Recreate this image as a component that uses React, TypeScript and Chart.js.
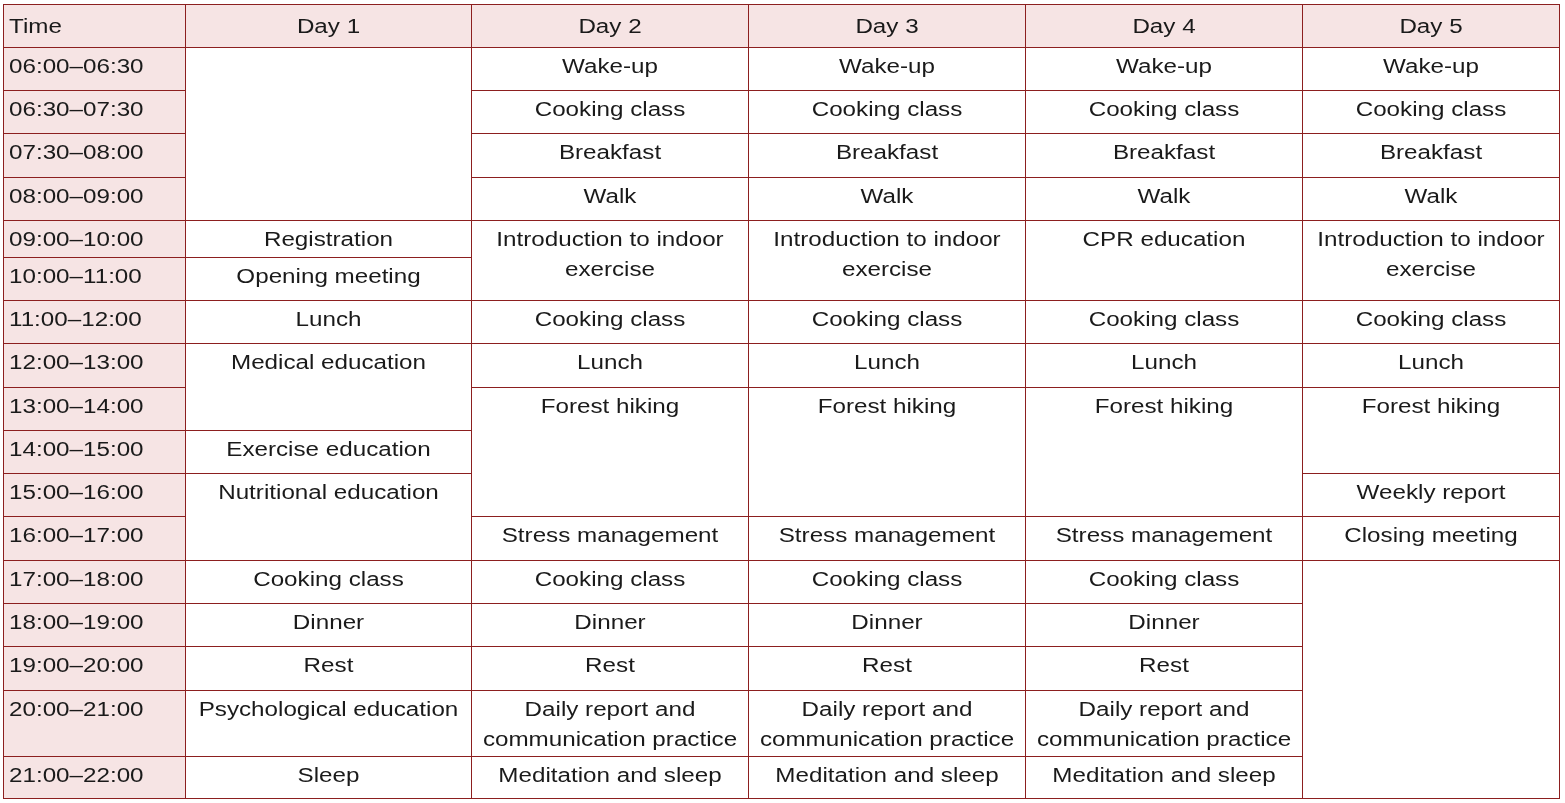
import React, { useEffect, useRef } from "react";
import { Chart, registerables } from "chart.js";

Chart.register(...registerables);

// ---- data ----
const timeHeader = "Time";
const dayLabels = ["Day 1", "Day 2", "Day 3", "Day 4", "Day 5"];
const timeSlots = [
  "06:00–06:30",
  "06:30–07:30",
  "07:30–08:00",
  "08:00–09:00",
  "09:00–10:00",
  "10:00–11:00",
  "11:00–12:00",
  "12:00–13:00",
  "13:00–14:00",
  "14:00–15:00",
  "15:00–16:00",
  "16:00–17:00",
  "17:00–18:00",
  "18:00–19:00",
  "19:00–20:00",
  "20:00–21:00",
  "21:00–22:00",
];
// [activity, number of time slots it spans]
const day1: [string, number][] = [
  ["", 4],
  ["Registration", 1],
  ["Opening meeting", 1],
  ["Lunch", 1],
  ["Medical education", 2],
  ["Exercise education", 1],
  ["Nutritional education", 2],
  ["Cooking class", 1],
  ["Dinner", 1],
  ["Rest", 1],
  ["Psychological education", 1],
  ["Sleep", 1],
];
const day2: [string, number][] = [
  ["Wake-up", 1],
  ["Cooking class", 1],
  ["Breakfast", 1],
  ["Walk", 1],
  ["Introduction to indoor exercise", 2],
  ["Cooking class", 1],
  ["Lunch", 1],
  ["Forest hiking", 3],
  ["Stress management", 1],
  ["Cooking class", 1],
  ["Dinner", 1],
  ["Rest", 1],
  ["Daily report and communication practice", 1],
  ["Meditation and sleep", 1],
];
const day3: [string, number][] = [
  ["Wake-up", 1],
  ["Cooking class", 1],
  ["Breakfast", 1],
  ["Walk", 1],
  ["Introduction to indoor exercise", 2],
  ["Cooking class", 1],
  ["Lunch", 1],
  ["Forest hiking", 3],
  ["Stress management", 1],
  ["Cooking class", 1],
  ["Dinner", 1],
  ["Rest", 1],
  ["Daily report and communication practice", 1],
  ["Meditation and sleep", 1],
];
const day4: [string, number][] = [
  ["Wake-up", 1],
  ["Cooking class", 1],
  ["Breakfast", 1],
  ["Walk", 1],
  ["CPR education", 2],
  ["Cooking class", 1],
  ["Lunch", 1],
  ["Forest hiking", 3],
  ["Stress management", 1],
  ["Cooking class", 1],
  ["Dinner", 1],
  ["Rest", 1],
  ["Daily report and communication practice", 1],
  ["Meditation and sleep", 1],
];
const day5: [string, number][] = [
  ["Wake-up", 1],
  ["Cooking class", 1],
  ["Breakfast", 1],
  ["Walk", 1],
  ["Introduction to indoor exercise", 2],
  ["Cooking class", 1],
  ["Lunch", 1],
  ["Forest hiking", 2],
  ["Weekly report", 1],
  ["Closing meeting", 1],
  ["", 5],
];
const schedule = [day1, day2, day3, day4, day5];

// ---- layout / style ----
const W = 1565;
const H = 803;
const TABLE_LEFT = 3.5;
const TABLE_TOP = 4.5;
const COL_WIDTHS = [182, 286, 277, 277, 277, 257];
const ROW_HEIGHTS = [43, 43, 43, 44, 43, 37, 43, 43, 44, 43, 43, 43, 44, 43, 43, 44, 66, 42];
const BORDER = "#8c1f1f";
const PINK = "#f6e4e4";
const TEXT = "#1a1a1a";
const FONT = '20px "Liberation Sans", Arial, sans-serif';
const STRETCH = 1.21;
const LINE_GAP = 29.5;
const BASELINE_OFFSET = 25.8;
const HEADER_BASELINE = 28.3;

type Cell = {
  c: number;
  r0: number;
  r1: number;
  text: string;
  fill: string;
  align: "left" | "center";
  header: boolean;
};

function buildCells(): Cell[] {
  const cells: Cell[] = [];
  cells.push({ c: 0, r0: 0, r1: 1, text: timeHeader, fill: PINK, align: "left", header: true });
  dayLabels.forEach((d, i) =>
    cells.push({ c: i + 1, r0: 0, r1: 1, text: d, fill: PINK, align: "center", header: true })
  );
  timeSlots.forEach((t, i) =>
    cells.push({ c: 0, r0: i + 1, r1: i + 2, text: t, fill: PINK, align: "left", header: false })
  );
  schedule.forEach((day, di) => {
    let r = 1;
    day.forEach(([txt, span]) => {
      cells.push({ c: di + 1, r0: r, r1: r + span, text: txt, fill: "#ffffff", align: "center", header: false });
      r += span;
    });
  });
  return cells;
}

const colEdges: number[] = [TABLE_LEFT];
COL_WIDTHS.forEach((w) => colEdges.push(colEdges[colEdges.length - 1] + w));
const rowEdges: number[] = [TABLE_TOP];
ROW_HEIGHTS.forEach((h) => rowEdges.push(rowEdges[rowEdges.length - 1] + h));

function wrap(ctx: CanvasRenderingContext2D, text: string, maxW: number): string[] {
  const words = text.split(" ");
  const lines: string[] = [];
  let cur = "";
  for (const w of words) {
    const test = cur ? cur + " " + w : w;
    if (cur && ctx.measureText(test).width * STRETCH > maxW) {
      lines.push(cur);
      cur = w;
    } else {
      cur = test;
    }
  }
  if (cur) lines.push(cur);
  return lines;
}

const tablePlugin = {
  id: "scheduleTable",
  afterDraw(chart: any) {
    const ctx: CanvasRenderingContext2D = chart.ctx;
    const xs = chart.scales.x;
    const ys = chart.scales.y;
    const cells = buildCells();
    ctx.save();
    // fills
    cells.forEach((cell) => {
      const x0 = xs.getPixelForValue(colEdges[cell.c]);
      const x1 = xs.getPixelForValue(colEdges[cell.c + 1]);
      const y0 = ys.getPixelForValue(rowEdges[cell.r0]);
      const y1 = ys.getPixelForValue(rowEdges[cell.r1]);
      ctx.fillStyle = cell.fill;
      ctx.fillRect(x0, y0, x1 - x0, y1 - y0);
    });
    // borders
    ctx.strokeStyle = BORDER;
    ctx.lineWidth = 1;
    cells.forEach((cell) => {
      const x0 = xs.getPixelForValue(colEdges[cell.c]);
      const x1 = xs.getPixelForValue(colEdges[cell.c + 1]);
      const y0 = ys.getPixelForValue(rowEdges[cell.r0]);
      const y1 = ys.getPixelForValue(rowEdges[cell.r1]);
      ctx.strokeRect(x0, y0, x1 - x0, y1 - y0);
    });
    // text
    ctx.font = FONT;
    ctx.fillStyle = TEXT;
    ctx.textBaseline = "alphabetic";
    cells.forEach((cell) => {
      if (!cell.text) return;
      const x0 = xs.getPixelForValue(colEdges[cell.c]);
      const x1 = xs.getPixelForValue(colEdges[cell.c + 1]);
      const y0 = ys.getPixelForValue(rowEdges[cell.r0]);
      const lines = wrap(ctx, cell.text, x1 - x0 - 6);
      const base = y0 + (cell.header ? HEADER_BASELINE : BASELINE_OFFSET);
      lines.forEach((ln, i) => {
        ctx.save();
        if (cell.align === "left") {
          ctx.textAlign = "left";
          ctx.translate(x0 + 5.5, base + i * LINE_GAP);
        } else {
          ctx.textAlign = "center";
          ctx.translate((x0 + x1) / 2, base + i * LINE_GAP);
        }
        ctx.scale(STRETCH, 1);
        ctx.fillText(ln, 0, 0);
        ctx.restore();
      });
    });
    ctx.restore();
  },
};

export default function App() {
  const ref = useRef<HTMLCanvasElement | null>(null);
  useEffect(() => {
    if (!ref.current) return;
    const anchors = buildCells().map((c) => ({
      x: (colEdges[c.c] + colEdges[c.c + 1]) / 2,
      y: (rowEdges[c.r0] + rowEdges[c.r1]) / 2,
    }));
    const chart = new Chart(ref.current, {
      type: "scatter",
      data: {
        datasets: [{ label: "cells", data: anchors, pointRadius: 0, pointHoverRadius: 0 }],
      },
      options: {
        animation: false,
        responsive: false,
        events: [],
        layout: { padding: 0 },
        plugins: { legend: { display: false }, tooltip: { enabled: false } },
        scales: {
          x: { type: "linear", min: 0, max: W, display: false },
          y: { type: "linear", min: 0, max: H, reverse: true, display: false },
        },
      },
      plugins: [tablePlugin],
    });
    return () => chart.destroy();
  }, []);
  return (
    <div style={{ position: "fixed", left: 0, top: 0, width: W, height: H, background: "#ffffff" }}>
      <canvas ref={ref} width={W} height={H} style={{ display: "block", width: W, height: H }} />
    </div>
  );
}
